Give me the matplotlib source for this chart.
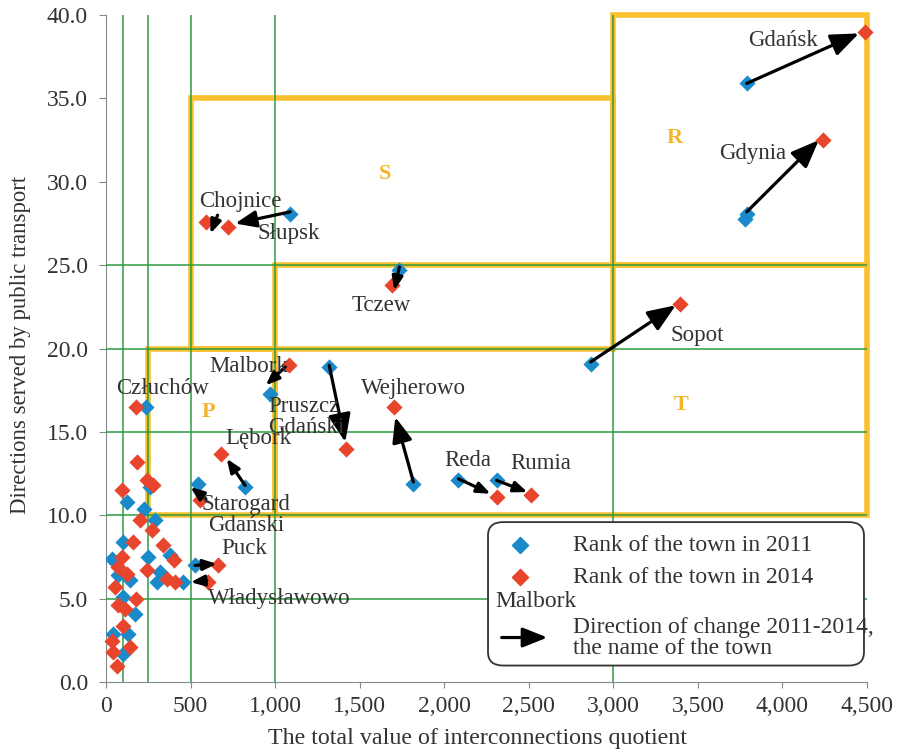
import matplotlib
matplotlib.use("Agg")
import matplotlib.pyplot as plt
import numpy as np
from matplotlib.patches import FancyBboxPatch
from matplotlib.ticker import FuncFormatter, MultipleLocator

plt.rcParams['font.family'] = ['Liberation Serif', 'DejaVu Serif']

# rank of the town in 2011 (blue)
x2011 = [3789, 3789, 3778, 2866, 1089, 1735, 968, 1320, 1818, 2084, 2310, 823, 546, 527, 458, 237,
         261, 122, 227, 290, 103, 34, 251, 379, 73, 142, 320, 300, 103, 172, 132, 43, 103]
y2011 = [35.9, 28.1, 27.8, 19.1, 28.1, 24.7, 17.3, 18.9, 11.9, 12.1, 12.1, 11.7, 11.9, 7.0, 6.0, 16.5,
         11.7, 10.8, 10.4, 9.7, 8.4, 7.4, 7.5, 7.6, 6.4, 6.1, 6.6, 6.0, 5.1, 4.1, 2.9, 2.9, 1.7]

# rank of the town in 2014 (red)
x2014 = [4488, 4239, 3393, 722, 592, 1693, 1083, 1421, 1705, 2315, 2516, 681, 557, 665, 606, 178,
         182, 241, 276, 93, 201, 271, 162, 336, 403, 93, 73, 122, 241, 359, 409, 53, 178, 73, 112,
         103, 142, 34, 43, 63]
y2014 = [39.0, 32.5, 22.7, 27.3, 27.6, 23.8, 19.0, 14.0, 16.5, 11.1, 11.2, 13.7, 10.9, 7.0, 6.0, 16.5,
         13.2, 12.1, 11.8, 11.5, 9.7, 9.1, 8.4, 8.2, 7.3, 7.5, 6.9, 6.5, 6.7, 6.2, 6.0, 5.7, 5.0, 4.6, 4.4,
         3.4, 2.1, 2.5, 1.8, 1.0]

# arrows (direction of change), tail -> head
arr_x0 = [3789, 3789, 2866, 1089, 660, 1735, 1060, 1320, 1818, 2084, 2310, 823, 590, 527, 596]
arr_y0 = [35.9, 28.2, 19.2, 28.2, 28.0, 24.9, 18.9, 19.0, 12.0, 12.2, 12.1, 11.8, 11.0, 7.0, 6.1]
arr_x1 = [4452, 4215, 3369, 764, 618, 1705, 945, 1415, 1711, 2274, 2492, 714, 500, 655, 501]
arr_y1 = [38.9, 32.5, 22.6, 27.5, 26.9, 23.5, 17.8, 14.4, 15.9, 11.3, 11.4, 13.4, 11.7, 7.1, 6.0]

# town names
names = ["Gdańsk", "Gdynia", "Sopot", "Chojnice", "Słupsk", "Tczew", "Malbork", "Pruszcz\nGdański",
         "Wejherowo", "Lębork", "Starogard\nGdański", "Puck", "Władysławowo", "Reda", "Rumia", "Człuchów"]
name_x = [4002, 3825, 3499, 793, 1083, 1628, 847, 959, 1818, 900, 829, 817, 1024, 2137, 2570, 337]
name_y = [38.5, 31.7, 20.8, 28.8, 26.9, 22.6, 18.9, 15.9, 17.6, 14.6, 10.0, 8.0, 5.0, 13.3, 13.1, 17.6]

# classes (rectangles): x0, x1, y0, y1
zones = ["P", "S", "T", "R"]
zone_x0 = [250, 500, 1000, 3000]
zone_x1 = [1000, 3000, 4500, 4500]
zone_y0 = [10, 20, 10, 25]
zone_y1 = [20, 35, 25, 40]
zone_lx = [604, 1652, 3399, 3363]
zone_ly = [16.2, 30.5, 16.6, 32.6]

green_x = [100, 250, 500, 1000, 3000]
green_y = [5, 10, 15, 20, 25]

blue = '#1b8acb'
red = '#e8452c'
yellow = '#fbc02d'
green = '#2e9b3e'
txt = '#333333'
arrow_style = '-|>,head_length=0.5,head_width=0.2'

fig = plt.figure(figsize=(8.98, 7.53), dpi=100)
ax = fig.add_axes([0.118, 0.094, 0.8475, 0.886])
ax.set_xlim(0, 4500)
ax.set_ylim(0, 40)

for gx in green_x:
    ax.axvline(gx, color=green, lw=1.1, zorder=3)
for gy in green_y:
    ax.axhline(gy, color=green, lw=1.1, zorder=3)

for i in range(len(zones)):
    xs = [zone_x0[i], zone_x1[i], zone_x1[i], zone_x0[i], zone_x0[i]]
    ys = [zone_y0[i], zone_y0[i], zone_y1[i], zone_y1[i], zone_y0[i]]
    ax.plot(xs, ys, color=yellow, lw=4, zorder=2, clip_on=False, solid_joinstyle='miter')
    ax.text(zone_lx[i], zone_ly[i], zones[i], color='#f5b52a', fontsize=16, fontweight='bold',
            ha='center', va='center', zorder=6)

ax.scatter(x2011, y2011, marker='D', s=68, color=blue, zorder=4, linewidths=0)
ax.scatter(x2014, y2014, marker='D', s=68, color=red, zorder=5, linewidths=0, clip_on=False)

# arrow head size follows arrow length (short arrows get small heads)
for i in range(len(arr_x0)):
    p0 = ax.transData.transform((arr_x0[i], arr_y0[i]))
    p1 = ax.transData.transform((arr_x1[i], arr_y1[i]))
    length = np.hypot(*(p1 - p0))
    ms = min(34, max(16, length * 0.45))
    ax.annotate('', xy=(arr_x1[i], arr_y1[i]), xytext=(arr_x0[i], arr_y0[i]),
                arrowprops=dict(arrowstyle=arrow_style, color='black', lw=2.3, mutation_scale=ms,
                                shrinkA=0, shrinkB=0), zorder=6)

for i in range(len(names)):
    ha = 'left' if names[i].startswith("Pruszcz") else 'center'
    ax.text(name_x[i], name_y[i], names[i], fontsize=16.5, color=txt,
            ha=ha, va='center', zorder=7, linespacing=1.0)

# legend box drawn by hand
ax.add_patch(FancyBboxPatch((0.502, 0.025), 0.494, 0.215, transform=ax.transAxes,
                            boxstyle='round,pad=0,rounding_size=0.02', facecolor='white',
                            edgecolor='#333333', lw=1.3, zorder=8))
ax.scatter([0.544], [0.205], marker='D', s=68, color=blue, transform=ax.transAxes, zorder=9)
ax.scatter([0.544], [0.157], marker='D', s=68, color=red, transform=ax.transAxes, zorder=9)
ax.text(0.614, 0.205, "Rank of the town in 2011", transform=ax.transAxes, fontsize=17,
        color=txt, va='center', zorder=9)
ax.text(0.614, 0.157, "Rank of the town in 2014", transform=ax.transAxes, fontsize=17,
        color=txt, va='center', zorder=9)
ax.text(0.512, 0.121, "Malbork", transform=ax.transAxes, fontsize=17, color=txt,
        va='center', zorder=9)
ax.annotate('', xy=(0.58, 0.067), xytext=(0.52, 0.067), xycoords='axes fraction',
            arrowprops=dict(arrowstyle=arrow_style, color='black', lw=2.3, mutation_scale=30,
                            shrinkA=0, shrinkB=0), zorder=9)
ax.text(0.614, 0.066, "Direction of change 2011-2014,\nthe name of the town", transform=ax.transAxes,
        fontsize=17, color=txt, va='center', zorder=9, linespacing=1.0)

ax.xaxis.set_major_locator(MultipleLocator(500))
ax.yaxis.set_major_locator(MultipleLocator(5))
ax.xaxis.set_major_formatter(FuncFormatter(lambda v, p: '{:,.0f}'.format(v)))
ax.yaxis.set_major_formatter(FuncFormatter(lambda v, p: '{:.1f}'.format(v)))
ax.tick_params(labelsize=17, colors=txt, color='#888888')
ax.tick_params(axis='y', length=5, pad=8)
ax.tick_params(axis='x', length=4, pad=6)
for s in ['top', 'right']:
    ax.spines[s].set_visible(False)
for s in ['left', 'bottom']:
    ax.spines[s].set_color('#888888')

ax.set_xlabel("The total value of interconnections quotient", fontsize=17.3, color=txt)
ax.set_ylabel("Directions served by public transport", fontsize=16.4, color=txt)
ax.xaxis.set_label_coords(0.488, -0.069)
ax.yaxis.set_label_coords(-0.098, 0.505)

fig.savefig("out.png", dpi=100)
